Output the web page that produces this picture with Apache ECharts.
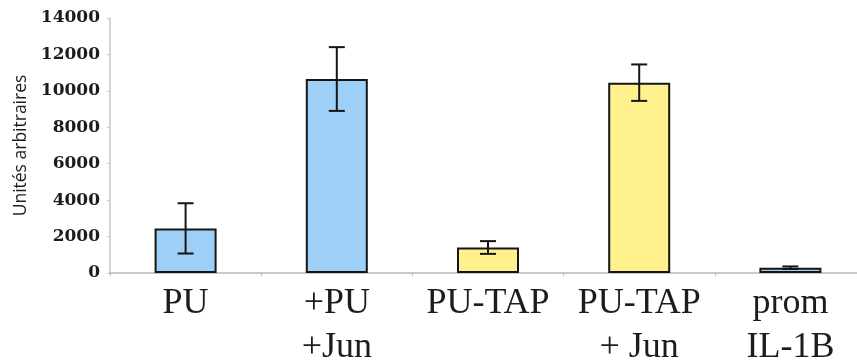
<!DOCTYPE html>
<html>
<head>
<meta charset="utf-8">
<script src="https://cdn.jsdelivr.net/npm/echarts@6/dist/echarts.min.js"></script>
<style>
  html, body { margin: 0; padding: 0; background: #ffffff; }
  #chart { width: 857px; height: 364px; }
</style>
</head>
<body>
<div id="chart"></div>
<script>
// Construct groups along the x axis (two-line labels use \n)
const categories = ['PU', '+PU\n+Jun', 'PU-TAP', 'PU-TAP\n+ Jun', 'prom\nIL-1B'];
// Mean signal per construct (arbitrary units)
const values = [2450, 10650, 1400, 10450, 290];
// Standard deviation for each mean
const errors = [1380, 1750, 350, 1000, 70];
// Y axis tick values
const yTicks = [0, 2000, 4000, 6000, 8000, 10000, 12000, 14000];

const blue = '#9ecff6';
const yellow = '#fff28e';
const barColors = [blue, blue, yellow, yellow, blue];

const chart = echarts.init(document.getElementById('chart'), null, { renderer: 'canvas' });

chart.setOption({
  animation: false,
  backgroundColor: '#ffffff',
  grid: { left: 110, right: -9, top: 18, bottom: 91, containLabel: false, outerBoundsMode: 'none' },
  xAxis: {
    type: 'category',
    data: categories,
    boundaryGap: true,
    axisLine: { lineStyle: { color: '#b8b8b8', width: 1.5 } },
    axisTick: { show: true, length: 3, lineStyle: { color: '#b8b8b8' } },
    axisLabel: {
      color: '#1c1c1c',
      fontFamily: 'Liberation Serif',
      fontSize: 36,
      lineHeight: 44,
      margin: 9,
      interval: 0
    }
  },
  yAxis: {
    type: 'value',
    min: yTicks[0],
    max: yTicks[yTicks.length - 1],
    interval: yTicks[1] - yTicks[0],
    name: 'Unités arbitraires',
    nameLocation: 'middle',
    nameGap: 79,
    nameTextStyle: { fontFamily: 'Open Sans', fontSize: 17.5, color: '#1c1c1c' },
    splitLine: { show: false },
    axisLine: { show: true, lineStyle: { color: '#c4c4c4', width: 1.5 } },
    axisTick: { show: true, length: 3, lineStyle: { color: '#c4c4c4' } },
    axisLabel: {
      color: '#1c1c1c',
      fontFamily: 'DejaVu Serif',
      fontWeight: 'bold',
      fontSize: 17,
      margin: 10,
      formatter: function (v) { return String(v); }
    }
  },
  series: [
    {
      type: 'bar',
      data: values.map((v, i) => ({ value: v, itemStyle: { color: barColors[i] } })),
      barWidth: 62,
      itemStyle: { borderColor: '#151515', borderWidth: 2 }
    },
    {
      type: 'custom',
      z: 5,
      data: values.map((v, i) => [i, v - errors[i], v + errors[i]]),
      renderItem: function (params, api) {
        const x = api.value(0);
        const lo = api.coord([x, api.value(1)]);
        const hi = api.coord([x, api.value(2)]);
        const half = 8;
        const style = { stroke: '#151515', lineWidth: 2 };
        return {
          type: 'group',
          children: [
            { type: 'line', shape: { x1: hi[0], y1: hi[1], x2: lo[0], y2: lo[1] }, style: style },
            { type: 'line', shape: { x1: hi[0] - half, y1: hi[1], x2: hi[0] + half, y2: hi[1] }, style: style },
            { type: 'line', shape: { x1: lo[0] - half, y1: lo[1], x2: lo[0] + half, y2: lo[1] }, style: style }
          ]
        };
      }
    }
  ]
});
</script>
</body>
</html>
